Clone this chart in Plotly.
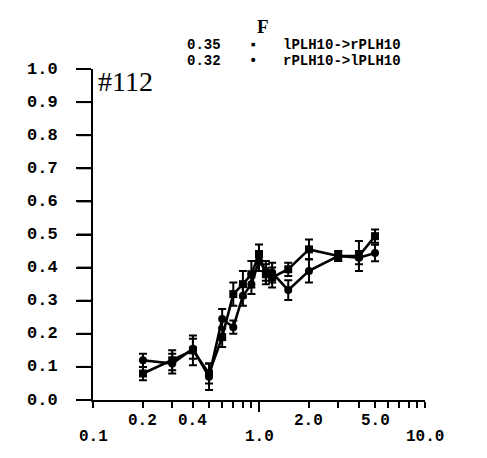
import plotly.graph_objects as go
import numpy as np

# Stimulus values (log x axis) and response for both directions
x_vals = [0.2, 0.3, 0.4, 0.5, 0.6, 0.7, 0.8, 0.9, 1.0, 1.1, 1.2, 1.5, 2.0, 3.0, 4.0, 5.0]

lr_vals = [0.08, 0.12, 0.15, 0.08, 0.19, 0.32, 0.35, 0.38, 0.44, 0.38, 0.37, 0.395, 0.455, 0.435, 0.435, 0.495]
lr_err = [0.02, 0.03, 0.045, 0.03, 0.03, 0.035, 0.04, 0.04, 0.03, 0.03, 0.03, 0.02, 0.03, 0.015, 0.045, 0.02]

rl_vals = [0.12, 0.11, 0.155, 0.07, 0.245, 0.22, 0.315, 0.35, 0.42, 0.39, 0.385, 0.332, 0.39, 0.435, 0.43, 0.444]
rl_err = [0.02, 0.03, 0.03, 0.04, 0.03, 0.02, 0.03, 0.03, 0.03, 0.03, 0.03, 0.03, 0.035, 0.015, 0.02, 0.025]

series_names = ["lPLH10->rPLH10", "rPLH10->lPLH10"]
f_values = ["0.35", "0.32"]
key_glyphs = ["▪", "•"]

y_ticks = [0.0, 0.1, 0.2, 0.3, 0.4, 0.5, 0.6, 0.7, 0.8, 0.9, 1.0]
x_decades = [0.1, 1.0, 10.0]
x_ticks = [0.1, 0.2, 0.3, 0.4, 0.5, 0.6, 0.7, 0.8, 0.9,
           1, 2, 3, 4, 5, 6, 7, 8, 9, 10]
x_upper_labels = [(0.2, "0.2"), (0.4, "0.4"), (2.0, "2.0"), (5.0, "5.0")]
x_lower_labels = [(0.1, "0.1"), (1.0, "1.0"), (10.0, "10.0")]

MONO = "Liberation Mono"
INK = "black"

# Figure geometry in pixels
W, H = 487, 458
L, R, T, B = 93, 62, 69, 58
pw, ph = W - L - R, H - T - B


def px_to_paper(px, py):
    return (px - L) / pw, (H - B - py) / ph


fig = go.Figure()

for vals, err, sym, name in [(lr_vals, lr_err, "square", series_names[0]),
                             (rl_vals, rl_err, "circle", series_names[1])]:
    fig.add_trace(go.Scatter(
        x=x_vals, y=vals, name=name, mode="lines+markers",
        line=dict(color=INK, width=2.6),
        marker=dict(symbol=sym, size=8, color=INK),
        error_y=dict(type="data", array=err, visible=True,
                     color=INK, thickness=2, width=4),
        showlegend=False,
    ))

fig.update_layout(
    width=W, height=H,
    margin=dict(l=L, r=R, t=T, b=B),
    paper_bgcolor="white", plot_bgcolor="white",
    xaxis=dict(
        type="log", range=[-1, 1],
        showgrid=False, zeroline=False,
        showline=True, linecolor=INK, linewidth=2,
        ticks="outside", tickmode="array", tickvals=x_ticks,
        ticklen=6, tickwidth=2, tickcolor=INK, showticklabels=False,
    ),
    yaxis=dict(
        range=[0, 1],
        showgrid=False, zeroline=False,
        showline=True, linecolor=INK, linewidth=2,
        ticks="outside", tickmode="array", tickvals=y_ticks,
        ticklen=15, tickwidth=2, tickcolor=INK,
        showticklabels=False,
    ),
)

# Longer marks at each decade of the x axis
for v in x_decades:
    fig.add_shape(type="line", xref="x", yref="paper",
                  ysizemode="pixel", yanchor=0, y0=0, y1=-12,
                  x0=np.log10(v), x1=np.log10(v),
                  line=dict(color=INK, width=2))

# Outward y tick marks, pinned to the left edge of the plot area
for v in y_ticks:
    fig.add_shape(type="line", xref="paper", yref="y",
                  xsizemode="pixel", xanchor=0, x0=-16, x1=0,
                  y0=v, y1=v, line=dict(color=INK, width=2))

tick_font = dict(family=MONO, size=16, color=INK, weight=700)

# y tick labels, set to the left of the ticks
for v in y_ticks:
    fig.add_annotation(x=0, y=v, xref="paper", yref="y",
                       text=f"{v:.1f}", showarrow=False,
                       xanchor="right", yanchor="middle", xshift=-33,
                       font=dict(family=MONO, size=17, color=INK, weight=700))

# Staggered x tick labels (two rows)
for v, t in x_upper_labels:
    fig.add_annotation(x=np.log10(v), y=0, xref="x", yref="paper",
                       text=t, showarrow=False, yanchor="top", yshift=-10,
                       font=tick_font)
for v, t in x_lower_labels:
    fig.add_annotation(x=np.log10(v), y=0, xref="x", yref="paper",
                       text=t, showarrow=False, yanchor="top", yshift=-26,
                       font=tick_font)

# Panel label
px, py = px_to_paper(96, 81)
fig.add_annotation(x=px, y=py, xref="paper", yref="paper", text="#112",
                   showarrow=False, xanchor="left", yanchor="middle",
                   font=dict(family="Liberation Serif", size=28, color=INK))

# Key: header "F", then value, symbol and direction for each series
px, py = px_to_paper(263, 27)
fig.add_annotation(x=px, y=py, xref="paper", yref="paper", text="F",
                   showarrow=False, xanchor="center", yanchor="middle",
                   font=dict(family="Liberation Serif", size=19, color=INK, weight=700))

key_font = dict(family=MONO, size=14, color=INK, weight=700)
for i, (fv, name, glyph) in enumerate(zip(f_values, series_names, key_glyphs)):
    row_y = 45 + 16 * i
    px, py = px_to_paper(185, row_y)
    fig.add_annotation(x=px, y=py, xref="paper", yref="paper", text=fv,
                       showarrow=False, xanchor="left", yanchor="middle",
                       font=key_font)
    px, py = px_to_paper(253, row_y)
    fig.add_annotation(x=px, y=py, xref="paper", yref="paper", text=glyph,
                       showarrow=False, xanchor="center", yanchor="middle",
                       font=key_font)
    px, py = px_to_paper(281, row_y)
    fig.add_annotation(x=px, y=py, xref="paper", yref="paper", text=name,
                       showarrow=False, xanchor="left", yanchor="middle",
                       font=key_font)

fig.write_html("out.html")
